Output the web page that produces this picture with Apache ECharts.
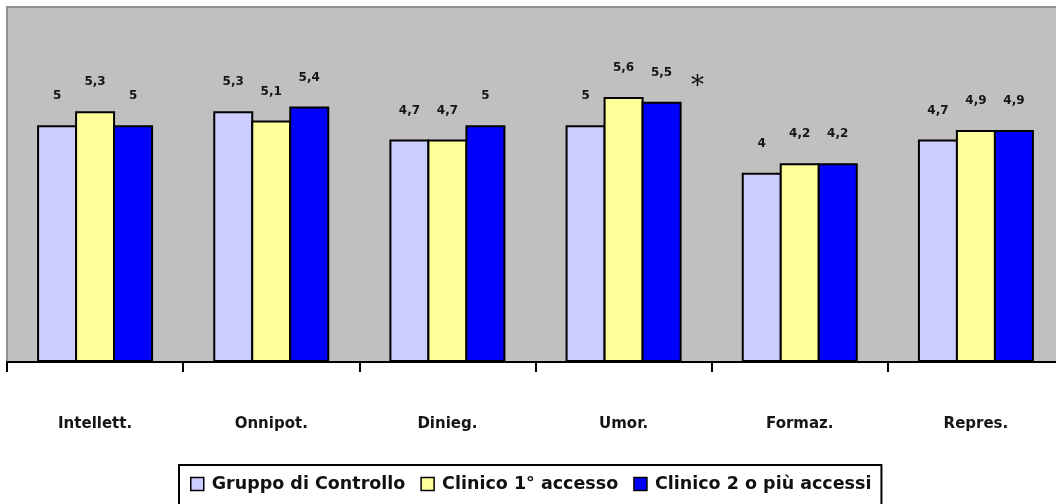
<!DOCTYPE html>
<html><head><meta charset="utf-8">
<script src="https://cdn.jsdelivr.net/npm/echarts@6/dist/echarts.min.js"></script>
<style>html,body{margin:0;padding:0;overflow:hidden;background:#fff}#c{width:1064px;height:504px}</style>
</head><body><div id="c"></div>
<script>
const categories = ['Intellett.', 'Onnipot.', 'Dinieg.', 'Umor.', 'Formaz.', 'Repres.'];
const seriesNames = ['Gruppo di Controllo', 'Clinico 1° accesso', 'Clinico 2 o più accessi'];
const controllo = [5, 5.3, 4.7, 5, 4, 4.7];
const clinico1 = [5.3, 5.1, 4.7, 5.6, 4.2, 4.9];
const clinico2 = [5, 5.4, 5, 5.5, 4.2, 4.9];
const colors = ['#CCCCFF', '#FFFF99', '#0000FF'];
const annotation = { category: 'Umor.', value: 5.5, text: '*' };

const chart = echarts.init(document.getElementById('c'));
const mk = (name, data, color) => ({
  name, type: 'bar', data, barWidth: 40, barGap: '-5%',
  itemStyle: { color, borderColor: '#000', borderWidth: 2 },
  label: {
    show: true, position: 'top', distance: 23,
    fontFamily: 'DejaVu Sans', fontWeight: 'bold', fontSize: 12, color: '#151515',
    formatter: p => String(p.value).replace('.', ',')
  }
});
chart.setOption({
  animation: false,
  backgroundColor: '#fff',
  grid: { left: 7, top: 7, width: 1057, height: 355, show: true,
    backgroundColor: '#C0C0C0', borderColor: '#8e8e8e', borderWidth: 2 },
  xAxis: {
    type: 'category', data: categories, boundaryGap: true,
    axisLine: { show: true, lineStyle: { color: '#000', width: 2 } },
    axisTick: { show: true, interval: 0, length: 10, lineStyle: { color: '#000', width: 2 } },
    axisLabel: { margin: 55, fontFamily: 'DejaVu Sans', fontWeight: 'bold', fontSize: 15, color: '#151515' }
  },
  yAxis: { type: 'value', min: 0, max: 7.5, show: false, splitLine: { show: false } },
  legend: {
    top: 465, left: 179, itemWidth: 13, itemHeight: 13, itemGap: 15,
    padding: [10, 10, 12, 11],
    borderColor: '#000', borderWidth: 2, backgroundColor: '#fff',
    icon: 'rect',
    textStyle: { fontFamily: 'DejaVu Sans', fontWeight: 'bold', fontSize: 17.5, color: '#111', padding: [0, 0, 0, 3] },
    data: seriesNames.map((n, i) => ({ name: n, itemStyle: { color: colors[i], borderColor: '#000', borderWidth: 1.5 } }))
  },
  series: [mk(seriesNames[0], controllo, colors[0]), mk(seriesNames[1], clinico1, colors[1]), mk(seriesNames[2], clinico2, colors[2])]
});
const pt = chart.convertToPixel({ gridIndex: 0 }, [annotation.category, annotation.value]);
chart.setOption({
  graphic: [{ type: 'text', x: pt[0] + 74, y: pt[1] - 14,
    style: { text: annotation.text, fontFamily: 'DejaVu Serif', fontSize: 26, fill: '#111', align: 'center', verticalAlign: 'middle' } }]
});
</script></body></html>
